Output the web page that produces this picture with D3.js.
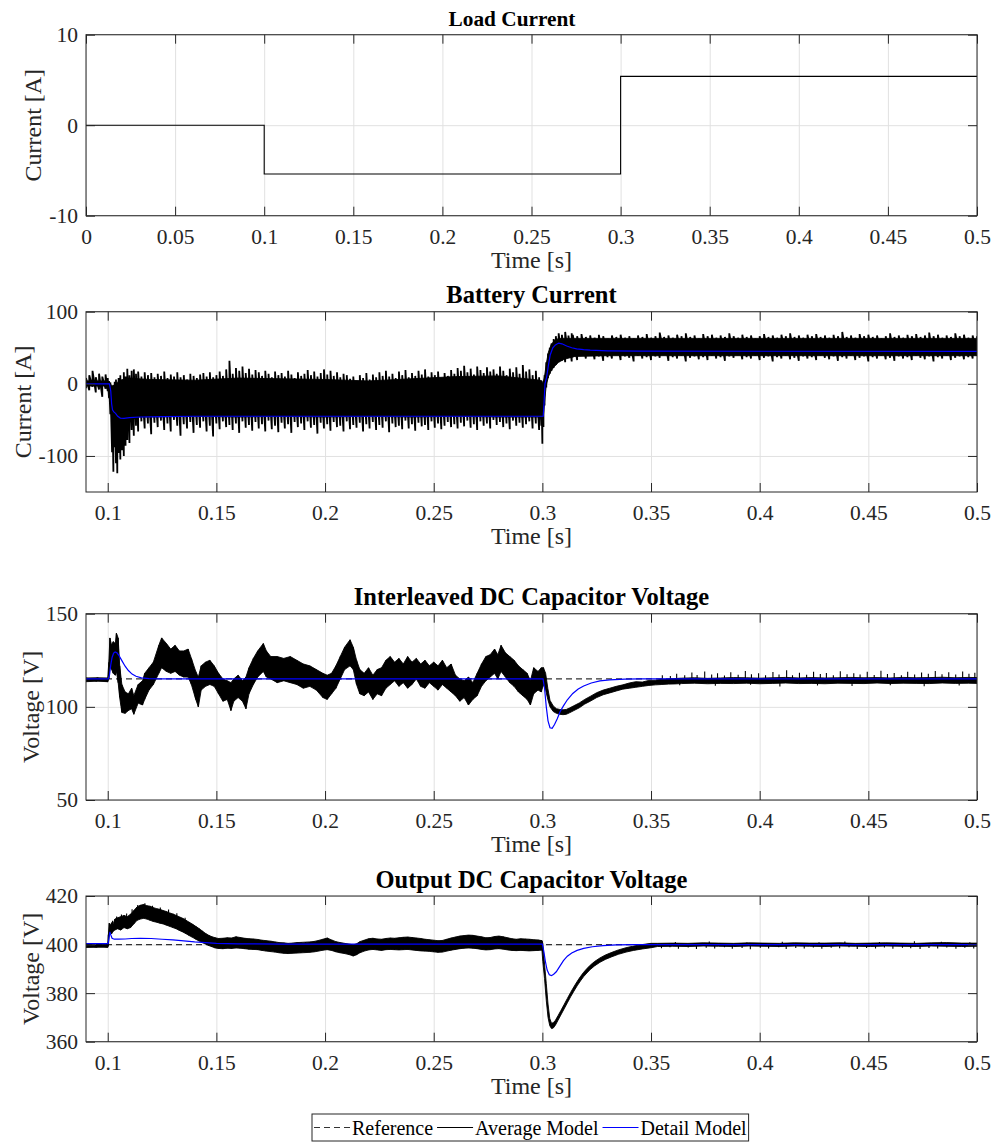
<!DOCTYPE html>
<html>
<head>
<meta charset="utf-8">
<script src="https://cdn.jsdelivr.net/npm/d3@7"></script>
<style>
  html, body { margin: 0; padding: 0; background: #fff; }
  svg { display: block; }
</style>
</head>
<body>
<svg id="fig" width="997" height="1144"></svg>
<script>
// ---------------- data ----------------
// Load current step profile: [time s, current A]
const loadSteps = [[0, 0], [0.1, -5.4], [0.3, 5.4], [0.5, 5.4]];

// Battery current, average model: solid ripple body [time s, low A, high A]
const battCore = [
  [0.0900,-3,4],[0.1000,-3,4],[0.1008,-12,2],[0.1016,-40,-2],[0.1024,-80,-3],[0.1034,-75,0],[0.1044,-85,2],
  [0.1056,-72,5],[0.1070,-66,6],[0.1090,-58,8],[0.1110,-50,8],[0.1140,-46,7],[0.1200,-46,6],[0.1400,-45,5],
  [0.1600,-46,8],[0.1800,-45,7],[0.2000,-46,6],[0.2200,-45,4],[0.2400,-46,7],[0.2600,-45,10],[0.2800,-46,11],
  [0.2990,-46,5],[0.3002,-55,0],[0.3010,-25,10],[0.3018,-2,28],[0.3028,10,44],[0.3040,18,54],[0.3055,24,60],
  [0.3075,30,63],[0.3100,34,63],[0.3150,38,63],[0.3300,39,63],[0.4000,39,63],[0.5000,39,63]
];

// Battery current, average model: switching ripple extremes [time s, low A, high A]
const battAvg = [
  [0.0900,-6,8],[0.0915,-9,12],[0.0930,-4,18],[0.0945,-12,9],[0.0960,-8,14],[0.0975,-18,10],[0.0990,-7,13],[0.1000,-10,8],
  [0.1006,-20,4],[0.1012,-42,2],[0.1020,-95,-5],[0.1026,-122,-2],[0.1032,-88,3],[0.1038,-110,6],[0.1044,-124,0],[0.1050,-96,8],
  [0.1058,-105,12],[0.1066,-92,5],[0.1074,-100,16],[0.1082,-86,10],[0.1090,-78,21],[0.1100,-82,12],[0.1110,-64,18],[0.1120,-72,20],
  [0.1130,-58,14],[0.1140,-66,17],[0.1155,-52,10],[0.1170,-62,16],[0.1185,-55,12],[0.1200,-70,15],[0.1215,-54,9],[0.1230,-60,14],
  [0.1245,-51,11],[0.1260,-64,17],[0.1275,-55,8],[0.1290,-66,13],[0.1305,-50,10],[0.1320,-58,16],[0.1335,-72,9],[0.1350,-56,12],
  [0.1365,-62,6],[0.1380,-53,14],[0.1395,-68,11],[0.1410,-57,8],[0.1425,-61,13],[0.1440,-52,15],[0.1455,-66,10],[0.1470,-58,16],
  [0.1485,-73,9],[0.1500,-55,12],[0.1515,-63,17],[0.1530,-52,11],[0.1545,-60,20],[0.1560,-57,32],[0.1575,-64,14],[0.1590,-55,22],
  [0.1605,-68,18],[0.1620,-52,24],[0.1635,-61,15],[0.1650,-57,21],[0.1665,-65,13],[0.1680,-53,19],[0.1695,-62,16],[0.1710,-56,11],
  [0.1725,-66,18],[0.1740,-51,14],[0.1755,-63,9],[0.1770,-58,17],[0.1785,-67,12],[0.1800,-54,15],[0.1815,-62,10],[0.1830,-56,18],
  [0.1845,-68,13],[0.1860,-53,8],[0.1875,-60,16],[0.1890,-55,11],[0.1905,-64,14],[0.1920,-52,19],[0.1935,-61,12],[0.1950,-57,17],
  [0.1965,-69,10],[0.1980,-54,15],[0.1995,-62,20],[0.2010,-56,13],[0.2025,-65,18],[0.2040,-53,11],[0.2055,-60,16],[0.2070,-58,9],
  [0.2085,-66,14],[0.2100,-52,12],[0.2115,-63,7],[0.2130,-57,10],[0.2145,-61,4],[0.2160,-54,12],[0.2175,-66,8],[0.2190,-56,15],
  [0.2205,-62,6],[0.2220,-53,13],[0.2235,-64,9],[0.2250,-57,16],[0.2265,-61,11],[0.2280,-52,18],[0.2295,-67,10],[0.2310,-55,14],
  [0.2325,-60,8],[0.2340,-58,17],[0.2355,-63,12],[0.2370,-51,19],[0.2385,-62,9],[0.2400,-56,15],[0.2415,-65,11],[0.2430,-54,18],
  [0.2445,-59,13],[0.2460,-57,20],[0.2475,-64,10],[0.2490,-52,16],[0.2505,-61,12],[0.2520,-55,17],[0.2535,-63,8],[0.2550,-58,15],
  [0.2565,-53,11],[0.2580,-60,19],[0.2595,-56,14],[0.2610,-62,22],[0.2625,-54,18],[0.2640,-59,25],[0.2655,-51,16],[0.2670,-61,21],
  [0.2685,-56,13],[0.2700,-64,24],[0.2715,-52,19],[0.2730,-58,15],[0.2745,-55,23],[0.2760,-62,17],[0.2775,-50,20],[0.2790,-57,14],
  [0.2805,-53,24],[0.2820,-60,18],[0.2835,-55,12],[0.2850,-63,21],[0.2865,-51,16],[0.2880,-58,23],[0.2895,-54,14],[0.2910,-61,26],
  [0.2925,-56,17],[0.2940,-52,20],[0.2955,-62,12],[0.2970,-55,18],[0.2985,-64,9],[0.2995,-58,5],[0.3000,-83,2],[0.3005,-60,4],
  [0.3010,-30,12],[0.3018,-5,30],[0.3026,8,42],[0.3034,14,50],[0.3042,18,56],[0.3052,22,62],[0.3062,26,66],[0.3075,30,70],
  [0.3090,32,68],[0.3105,30,72],[0.3120,36,67],[0.3135,31,70],
  [0.314,37,68],[0.316,33,66],[0.318,39,69],[0.320,35,65],[0.322,40,67],[0.324,34,64],[0.326,38,68],[0.328,32,66],
  [0.330,37,63],[0.332,35,67],[0.334,40,65],[0.336,33,68],[0.338,38,64],[0.340,36,66],[0.342,31,63],[0.344,39,67],
  [0.346,35,65],[0.348,37,69],[0.350,33,64],[0.352,38,66],[0.354,36,71],[0.356,40,65],[0.358,32,67],[0.360,37,64],
  [0.362,35,68],[0.364,39,66],[0.366,31,70],[0.368,36,65],[0.370,38,67],[0.372,34,63],[0.374,37,69],[0.376,33,66],
  [0.378,39,68],[0.380,35,64],[0.382,37,67],[0.384,32,65],[0.386,38,70],[0.388,36,66],[0.390,40,64],[0.392,34,68],
  [0.394,37,65],[0.396,35,67],[0.398,39,63],[0.400,33,66],[0.402,36,69],[0.404,38,65],[0.406,31,67],[0.408,37,64],
  [0.410,35,68],[0.412,39,66],[0.414,34,70],[0.416,36,65],[0.418,32,67],[0.420,38,64],[0.422,35,68],[0.424,37,66],
  [0.426,33,69],[0.428,39,65],[0.430,36,67],[0.432,34,64],[0.434,38,68],[0.436,32,66],[0.438,37,72],[0.440,35,65],
  [0.442,39,67],[0.444,33,64],[0.446,36,69],[0.448,38,66],[0.450,31,68],[0.452,37,65],[0.454,35,67],[0.456,39,63],
  [0.458,34,66],[0.460,36,70],[0.462,32,65],[0.464,38,67],[0.466,35,64],[0.468,37,68],[0.470,33,66],[0.472,39,69],
  [0.474,36,65],[0.476,34,67],[0.478,38,71],[0.480,31,66],[0.482,37,68],[0.484,35,64],[0.486,39,67],[0.488,33,65],
  [0.490,36,70],[0.492,38,66],[0.494,34,68],[0.496,37,64],[0.498,35,67],[0.500,39,66]
];

// Battery current, detail model: [time s, current A]
const battDet = [
  [0.09,0],[0.1008,0],[0.1014,-10],[0.1018,-28],[0.1022,-36],[0.1028,-39],[0.1036,-41],[0.1046,-45],[0.1058,-47.5],
  [0.1075,-48],[0.110,-47],[0.115,-46],[0.125,-45.5],[0.14,-45],[0.3004,-45],[0.3008,-25],[0.3012,0],[0.3020,10],
  [0.3028,26],[0.3036,40],[0.3048,50],[0.3060,54],[0.3075,56.5],[0.3090,55.5],[0.3112,52.5],[0.3135,50],[0.3158,48.5],
  [0.3190,47.3],[0.3220,46.6],[0.3300,45.8],[0.3450,45.2],[0.5,45]
];

// Interleaved DC capacitor voltage, average model envelope up to the load step [time s, low V, high V]
const icvRipple = [
  [0.0900,113.5,115.5],[0.0950,113.8,115.6],[0.1000,113.5,115.5],[0.1005,115,124],[0.1010,122,137],[0.1018,120,133],
  [0.1025,118,135],[0.1035,117,134],[0.1040,119,139.5],[0.1048,113,137],[0.1055,105,122],[0.1065,97,112],[0.1080,96.5,108],
  [0.1095,98,107],[0.1110,99,110],[0.1120,96,106],[0.1140,102,112],[0.1160,101,114],[0.1170,104,118],[0.1190,109,121],
  [0.1210,112,124],[0.1235,118,133],[0.1248,121,137],[0.1270,119,134],[0.1290,118,131],[0.1310,119,133],[0.1330,117,130],
  [0.1350,116,130],[0.1370,116,131],[0.1385,112,126],[0.1405,104,119],[0.1417,100,116],[0.1430,109,122],[0.1450,111,124],
  [0.1470,112,125],[0.1490,111,122],[0.1510,107,118],[0.1530,103,115],[0.1550,104,114],[0.1567,98,113],[0.1580,103,115],
  [0.1600,105,117],[0.1620,103,114],[0.1636,99,116],[0.1650,107,121],[0.1670,112,126],[0.1690,116,130],[0.1716,119,134],
  [0.1730,116,130],[0.1750,115,127],[0.1780,113,127],[0.1810,114,126],[0.1840,113,127],[0.1870,112,125],[0.1900,110,123],
  [0.1930,111,122],[0.1960,109,120],[0.1990,105,118],[0.2010,104,117],[0.2030,107,118],[0.2050,110,122],[0.2070,115,127],
  [0.2090,120,132],[0.2115,122,136],[0.2130,120,132],[0.2145,112,125],[0.2160,107,120],[0.2180,106,118],[0.2200,108,121],
  [0.2220,104,117],[0.2240,107,120],[0.2260,106,121],[0.2280,110,125],[0.2300,112,127],[0.2320,114,124],[0.2340,111,126],
  [0.2360,113,123],[0.2380,110,127],[0.2400,112,124],[0.2420,115,126],[0.2440,111,123],[0.2460,110,125],[0.2480,113,122],
  [0.2500,111,124],[0.2520,109,122],[0.2540,112,125],[0.2560,110,121],[0.2580,108,123],[0.2600,106,117],[0.2620,103,115],
  [0.2640,105,114],[0.2660,101,116],[0.2680,104,113],[0.2700,106,118],[0.2720,111,123],[0.2740,114,127],[0.2760,116,128],
  [0.2780,118,131],[0.2795,115,128],[0.2810,119,133],[0.2830,116,129],[0.2850,113,127],[0.2870,111,125],[0.2890,108,122],
  [0.2910,106,120],[0.2930,104,118],[0.2945,101,114],[0.2960,107,121],[0.2980,109,119],[0.2995,108,121],[0.3005,112,121]
];

// Interleaved DC capacitor voltage, average model after the load step [time s, low V, high V]
const icvBody = [
  [0.2995,110,119],[0.3005,112,121],[0.3015,109,118],[0.3025,104,110],[0.3035,100,103.5],[0.3050,97.5,100.5],[0.3065,96.5,99],
  [0.3080,96,98.6],[0.3095,95.8,98.4],[0.3110,96,98.6],[0.3125,96.8,99.4],[0.3145,98,100.6],[0.3170,99.5,102.1],[0.3195,101.5,104],
  [0.3220,103,105.6],[0.3250,105,107.6],[0.3280,106.5,109],[0.3310,107.5,110],[0.3340,108.5,111],[0.3370,109.5,111.8],
  [0.3400,110,112.8],[0.3430,110.5,113.5],[0.3460,111,113.3],[0.3490,111.5,114.2],[0.3520,111.8,114.3],[0.3550,112,114.8],
  [0.3580,112.2,114.9],[0.3610,112.3,115.2],[0.364,112.5,115.4],[0.370,112.7,115.6],[0.376,112.4,115.3],[0.382,112.6,115.5],
  [0.388,112.5,115.7],[0.394,112.7,115.6],[0.400,112.4,115.4],[0.406,112.6,115.6],[0.412,112.8,115.8],[0.418,112.5,115.5],
  [0.424,112.6,115.7],[0.430,112.4,115.5],[0.436,112.7,115.6],[0.442,112.6,115.8],[0.448,112.5,115.6],[0.454,112.8,115.7],
  [0.460,112.5,115.5],[0.466,112.7,115.8],[0.472,112.6,115.6],[0.478,112.5,115.7],[0.484,112.8,115.9],[0.490,112.6,115.6],
  [0.496,112.7,115.8],[0.500,112.6,115.7]
];

// Interleaved DC capacitor voltage, average model spikes [time s, from V, to V]
const icvSpikes = [
  [0.3552,115,117.0],[0.3589,115,116.6],[0.3618,115,117.8],[0.3632,113,111.6],[0.3655,115,116.9],[0.3688,115,118.4],
  [0.3712,115,117.1],[0.3747,115,119.0],[0.3779,115,117.3],[0.3796,113,111.3],[0.3806,115,118.1],[0.3838,115,116.8],
  [0.3867,115,118.6],[0.3901,115,117.2],[0.3934,115,119.3],[0.3958,113,111.8],[0.3962,115,117.5],[0.3995,115,118.0],
  [0.4027,115,116.9],[0.4061,115,118.7],[0.4089,115,117.4],[0.4093,113,110.9],[0.4124,115,119.6],[0.4151,115,117.0],
  [0.4183,115,118.3],[0.4216,115,117.2],[0.4248,115,118.9],[0.4266,113,111.5],[0.4279,115,117.6],[0.4307,115,118.2],
  [0.4339,115,116.9],[0.4371,115,119.1],[0.4402,115,117.5],[0.4425,113,111.2],[0.4433,115,118.0],[0.4462,115,117.3],
  [0.4495,115,118.8],[0.4527,115,117.1],[0.4558,115,119.4],[0.4588,115,117.6],[0.4601,113,111.6],[0.4619,115,118.2],
  [0.4652,115,117.0],[0.4681,115,118.9],[0.4713,115,117.4],[0.4745,115,118.4],[0.4757,113,111.0],[0.4776,115,117.8],
  [0.4808,115,119.2],[0.4839,115,117.5],[0.4870,115,118.6],[0.4902,115,117.3],[0.4918,113,111.4],[0.4934,115,119.0],
  [0.4963,115,117.7],[0.4990,115,118.3]
];

// Interleaved DC capacitor voltage, detail model: [time s, voltage V]
const icvDet = [
  [0.09,115],[0.1003,115],[0.1008,117],[0.1014,122.5],[0.1020,126.5],[0.1027,128.8],[0.1034,129.5],[0.1042,129],
  [0.1052,127.5],[0.1065,124.8],[0.1080,121.8],[0.1095,119.5],[0.1112,117.6],[0.1130,116.4],[0.1155,115.6],[0.1190,115.2],
  [0.1250,115],[0.3003,115],[0.3010,110],[0.3018,100],[0.3026,92.5],[0.3035,88.8],[0.3045,88.5],[0.3056,90.5],[0.3068,93.5],
  [0.3082,97.5],[0.3097,100.5],[0.3115,103.8],[0.3140,107.2],[0.3165,109.6],[0.3190,111.2],[0.3225,112.8],[0.3265,113.9],
  [0.3310,114.5],[0.3380,114.9],[0.3450,115],[0.5,115]
];

// Output DC capacitor voltage, average model envelope up to the load step [time s, low V, high V]
const ocvRipple = [
  [0.0900,398.8,400.0],[0.0950,398.9,399.9],[0.1000,398.9,400.1],[0.1003,399.5,404],[0.1007,404,408.8],[0.1012,405,408],
  [0.1018,404.5,409],[0.1025,405.5,408.5],[0.1033,406,410.5],[0.1045,406.5,411],[0.1060,406,411.5],[0.1075,407,412],
  [0.1090,406.5,411.5],[0.1105,407,412.5],[0.1120,408.5,414],[0.1135,410,415.5],[0.1150,410.5,416.2],[0.1165,410.8,416.5],
  [0.1180,410.5,416],[0.1195,410,415.8],[0.1210,409.5,415.2],[0.1225,409.2,414.8],[0.1240,408.8,414.5],[0.1255,408.5,414],
  [0.1270,408,413.6],[0.1285,407.5,413],[0.1300,407,412.6],[0.1315,406.5,412],[0.1330,405.8,411.4],[0.1345,405.2,410.8],
  [0.1360,404.5,410],[0.1375,403.7,409.2],[0.1390,403,408.4],[0.1405,402.2,407.5],[0.1420,401.5,406.6],[0.1435,400.8,405.6],
  [0.1450,400.2,404.6],[0.1465,399.6,403.8],[0.1480,399.1,403.2],[0.1495,398.6,402.8],[0.1510,398.4,402.5],[0.1530,398.3,402.6],
  [0.1550,398.5,402.8],[0.1570,398.4,402.7],[0.1590,398.6,403.2],[0.1610,398.5,402.9],[0.1630,398.3,402.6],[0.1650,398.1,402.4],
  [0.1670,398.0,402.3],[0.1690,397.9,402.1],[0.1710,397.6,401.8],[0.1730,397.3,401.6],[0.1750,397.1,401.4],[0.1770,396.9,401.1],
  [0.1790,396.6,400.8],[0.1810,396.4,400.7],[0.1830,396.3,400.5],[0.1850,396.4,400.6],[0.1870,396.5,400.8],[0.1890,396.6,400.9],
  [0.1910,396.7,401.0],[0.1930,396.8,401.1],[0.1950,397.0,401.3],[0.1970,397.3,401.7],[0.1990,397.7,402.2],[0.2010,397.9,402.7],
  [0.2030,397.6,401.9],[0.2050,397.0,401.2],[0.2070,396.6,400.8],[0.2090,396.3,400.5],[0.2110,395.9,400.2],[0.2130,395.3,399.9],
  [0.2145,395.8,400.3],[0.2160,396.6,401.2],[0.2180,397.3,401.8],[0.2200,397.8,402.4],[0.2220,398.0,402.6],[0.2240,397.8,402.3],
  [0.2260,397.6,402.2],[0.2280,397.9,402.5],[0.2300,398.0,402.7],[0.2320,397.9,402.6],[0.2340,397.8,402.8],[0.2360,397.9,403.0],
  [0.2380,398.0,403.1],[0.2400,397.8,402.9],[0.2420,397.6,402.7],[0.2440,397.4,402.5],[0.2460,397.3,402.2],[0.2480,397.2,402.0],
  [0.2500,397.0,401.8],[0.2520,396.8,401.6],[0.2540,396.9,401.7],[0.2560,397.3,402.2],[0.2580,397.7,402.7],[0.2600,398.0,403.1],
  [0.2620,398.3,403.5],[0.2640,398.5,403.7],[0.2660,398.6,403.9],[0.2680,398.5,403.8],[0.2700,398.3,403.5],[0.2720,398.0,403.2],
  [0.2740,397.8,402.8],[0.2760,397.9,402.9],[0.2780,398.2,403.3],[0.2800,398.3,403.5],[0.2820,398.1,403.2],[0.2840,397.8,402.8],
  [0.2860,397.6,402.4],[0.2880,397.5,402.2],[0.2900,397.6,402.4],[0.2920,397.5,402.3],[0.2940,397.4,402.2],[0.2960,397.5,402.0],
  [0.2980,397.6,401.9],[0.2998,397.8,401.6]
];

// Output DC capacitor voltage, average model after the load step [time s, low V, high V]
const ocvBody = [
  [0.2980,397.9,401.6],[0.2998,397.8,401.6],[0.3002,393,400.5],[0.3010,386,392],[0.3018,377,384],[0.3026,370,375.5],
  [0.3034,366.6,369.6],[0.3042,365.4,367.6],[0.3050,365.6,367.8],[0.3060,366.8,368.8],[0.3072,368.8,370.7],[0.3085,371.0,372.8],
  [0.3100,373.5,375.3],[0.3115,376.0,377.8],[0.3130,378.5,380.3],[0.3145,380.8,382.6],[0.3160,383.0,384.8],[0.3175,385.0,386.8],
  [0.3190,386.8,388.6],[0.3205,388.3,390.1],[0.3220,389.7,391.5],[0.3240,391.2,393.0],[0.3265,392.7,394.5],[0.3290,393.9,395.7],
  [0.3320,395.0,396.8],[0.3350,396.0,397.8],[0.3385,396.9,398.7],[0.3420,397.6,399.4],[0.3460,398.2,400.0],[0.3500,398.7,400.5],
  [0.353,399.2,400.5],[0.360,399.3,400.6],[0.367,399.2,400.5],[0.374,399.4,400.7],[0.381,399.3,400.6],[0.388,399.2,400.5],
  [0.395,399.4,400.7],[0.402,399.3,400.6],[0.409,399.2,400.5],[0.416,399.4,400.7],[0.423,399.3,400.6],[0.430,399.2,400.6],
  [0.437,399.4,400.7],[0.444,399.3,400.5],[0.451,399.2,400.6],[0.458,399.4,400.7],[0.465,399.3,400.6],[0.472,399.2,400.5],
  [0.479,399.4,400.7],[0.486,399.3,400.8],[0.493,399.2,400.6],[0.500,399.3,400.6]
];

// Output DC capacitor voltage, average model spikes [time s, from V, to V]
const ocvSpikes = [
  [0.1022,407,409.8],[0.1041,408,411.6],[0.1063,409,412.4],[0.1087,409,412.8],[0.1112,411,414.5],[0.1138,413,416.3],
  [0.1171,414,417.0],[0.1206,413,416.0],[0.1242,412,415.3],[0.1280,411,414.4],[0.1318,410,412.9],[0.1356,408,411.0],
  [0.3548,399.8,398.5],[0.3587,399.8,398.9],[0.3612,400,401.1],[0.3626,399.8,398.3],[0.3671,399.8,398.8],[0.3709,399.8,398.2],
  [0.3754,399.8,398.7],[0.3768,400,401.3],[0.3793,399.8,398.4],[0.3838,399.8,398.9],[0.3874,399.8,398.3],[0.3919,399.8,398.6],
  [0.3941,400,400.9],[0.3957,399.8,398.1],[0.4003,399.8,398.7],[0.4041,399.8,398.4],[0.4088,399.8,398.9],[0.4104,400,401.2],
  [0.4122,399.8,398.2],[0.4166,399.8,398.6],[0.4205,399.8,398.4],[0.4247,399.8,398.8],[0.4273,400,401.0],[0.4286,399.8,398.3],
  [0.4329,399.8,398.7],[0.4368,399.8,398.5],[0.4392,400,401.3],[0.4411,399.8,398.9],[0.4449,399.8,398.2],[0.4492,399.8,398.6],
  [0.4533,399.8,398.4],[0.4551,400,401.1],[0.4574,399.8,398.8],[0.4613,399.8,398.3],[0.4657,399.8,398.7],[0.4695,399.8,398.5],
  [0.4712,400,401.4],[0.4738,399.8,398.2],[0.4779,399.8,398.6],[0.4819,399.8,398.4],[0.4836,400,401.2],[0.4861,399.8,398.8],
  [0.4903,399.8,398.3],[0.4944,399.8,398.7],[0.4967,400,401.0],[0.4985,399.8,398.4]
];

// Output DC capacitor voltage, detail model: [time s, voltage V]
const ocvDet = [
  [0.09,400.4],[0.1002,400.4],[0.1006,403],[0.1010,405.2],[0.1014,404],[0.1020,402.6],[0.1030,402.2],[0.1050,402.2],
  [0.1080,402.3],[0.1110,402.5],[0.1150,402.6],[0.1200,402.5],[0.1250,402.2],[0.1300,401.9],[0.1350,401.5],[0.1400,401.1],
  [0.1450,400.8],[0.1500,400.5],[0.1600,400.3],[0.1800,400.2],[0.3000,400.2],[0.3006,397.5],[0.3014,393],[0.3022,389.5],
  [0.3032,387.6],[0.3042,387.2],[0.3052,387.8],[0.3064,388.8],[0.3080,391],[0.3097,393.4],[0.3115,395.2],[0.3135,396.5],
  [0.3160,397.6],[0.3190,398.4],[0.3230,399.1],[0.3280,399.6],[0.3340,399.9],[0.3420,400.0],[0.5,400.0]
];

// Voltage references
const icvRef = 115;
const ocvRef = 400;

// Axis ticks and labels
const xTicksLoad = [0, 0.05, 0.1, 0.15, 0.2, 0.25, 0.3, 0.35, 0.4, 0.45, 0.5];
const xLabelsLoad = ["0", "0.05", "0.1", "0.15", "0.2", "0.25", "0.3", "0.35", "0.4", "0.45", "0.5"];
const xTicksZoom = [0.1, 0.15, 0.2, 0.25, 0.3, 0.35, 0.4, 0.45, 0.5];
const xLabelsZoom = ["0.1", "0.15", "0.2", "0.25", "0.3", "0.35", "0.4", "0.45", "0.5"];
const yTicksLoad = [-10, 0, 10];
const yLabelsLoad = ["-10", "0", "10"];
const yTicksBatt = [-100, 0, 100];
const yLabelsBatt = ["-100", "0", "100"];
const yTicksIcv = [50, 100, 150];
const yLabelsIcv = ["50", "100", "150"];
const yTicksOcv = [360, 380, 400, 420];
const yLabelsOcv = ["360", "380", "400", "420"];

const titles = ["Load Current", "Battery Current", "Interleaved DC Capacitor Voltage", "Output DC Capacitor Voltage"];
const yLabels = ["Current [A]", "Current [A]", "Voltage [V]", "Voltage [V]"];
const xLabel = "Time [s]";
const legendLabels = ["Reference", "Average Model", "Detail Model"];

// ---------------- fonts ----------------
// Use the first installed Times-like face.
function pickFont(list) {
  const ctx = document.createElement("canvas").getContext("2d");
  const sample = "mmmmmmmmmmlliWQ0.05 Current";
  const widthOf = f => { ctx.font = "40px " + f; return ctx.measureText(sample).width; };
  const mono = widthOf("monospace"), sans = widthOf("sans-serif");
  for (const name of list) {
    if (widthOf(`"${name}", monospace`) !== mono || widthOf(`"${name}", sans-serif`) !== sans) return `"${name}", serif`;
  }
  return "serif";
}
const FONT = pickFont(["Liberation Serif", "Times New Roman", "Tinos", "Nimbus Roman", "Noto Serif", "DejaVu Serif"]);

// ---------------- layout ----------------
const svg = d3.select("#fig").attr("font-family", FONT);
const L = 86, R = 977;
const AX = "#262626", GRID = "#e1e1e1", BLUE = "#0000ff";
const TICK_FS = 21.5, LABEL_FS = 24, LEGEND_FS = 20;

const panels = [
  { top: 34.7, bottom: 215.7, xd: [0, 0.5], yd: [-10, 10], xt: xTicksLoad, xl: xLabelsLoad, yt: yTicksLoad, yl: yLabelsLoad,
    title: titles[0], titleX: 512, titleFs: 21.3, ylab: yLabels[0], ylabX: 33 },
  { top: 311.7, bottom: 492, xd: [0.09, 0.5], yd: [-150, 100], xt: xTicksZoom, xl: xLabelsZoom, yt: yTicksBatt, yl: yLabelsBatt,
    title: titles[1], titleX: 531.5, titleFs: 24.5, ylab: yLabels[1], ylabX: 23 },
  { top: 613.7, bottom: 800, xd: [0.09, 0.5], yd: [50, 150], xt: xTicksZoom, xl: xLabelsZoom, yt: yTicksIcv, yl: yLabelsIcv,
    title: titles[2], titleX: 531.5, titleFs: 24.5, ylab: yLabels[2], ylabX: 31 },
  { top: 896, bottom: 1041.7, xd: [0.09, 0.5], yd: [360, 420], xt: xTicksZoom, xl: xLabelsZoom, yt: yTicksOcv, yl: yLabelsOcv,
    title: titles[3], titleX: 531.5, titleFs: 24.5, ylab: yLabels[3], ylabX: 31 }
];

panels.forEach((p, i) => {
  p.x = d3.scaleLinear().domain(p.xd).range([L, R]);
  p.y = d3.scaleLinear().domain(p.yd).range([p.bottom, p.top]);
  const g = svg.append("g");
  const h = p.bottom - p.top;

  // grid
  g.append("g").attr("transform", `translate(0,${p.bottom})`)
    .call(d3.axisBottom(p.x).tickValues(p.xt).tickSize(-h).tickFormat(""))
    .call(s => { s.select(".domain").remove(); s.selectAll("line").attr("stroke", GRID).attr("stroke-width", 1); });
  g.append("g").attr("transform", `translate(${L},0)`)
    .call(d3.axisLeft(p.y).tickValues(p.yt).tickSize(-(R - L)).tickFormat(""))
    .call(s => { s.select(".domain").remove(); s.selectAll("line").attr("stroke", GRID).attr("stroke-width", 1); });

  // clip for data
  const cid = "clip" + i;
  svg.append("clipPath").attr("id", cid).append("rect")
    .attr("x", L).attr("y", p.top).attr("width", R - L).attr("height", h);
  p.plot = g.append("g").attr("clip-path", `url(#${cid})`);
  p.axesG = svg.append("g");
});

function drawAxes(p) {
  const g = p.axesG;
  const fmtX = (d, i) => p.xl[i], fmtY = (d, i) => p.yl[i];
  const styleAx = s => {
    s.attr("font-family", FONT).attr("font-size", TICK_FS);
    s.select(".domain").remove();
    s.selectAll("line").attr("stroke", AX).attr("stroke-width", 1);
    s.selectAll("text").attr("fill", AX);
  };
  g.append("g").attr("transform", `translate(0,${p.bottom})`)
    .call(d3.axisBottom(p.x).tickValues(p.xt).tickFormat(fmtX).tickSizeInner(-9).tickSizeOuter(0).tickPadding(13))
    .call(styleAx);
  g.append("g").attr("transform", `translate(0,${p.top})`)
    .call(d3.axisTop(p.x).tickValues(p.xt).tickFormat("").tickSizeInner(-9).tickSizeOuter(0))
    .call(styleAx);
  g.append("g").attr("transform", `translate(${L},0)`)
    .call(d3.axisLeft(p.y).tickValues(p.yt).tickFormat(fmtY).tickSizeInner(-9).tickSizeOuter(0).tickPadding(8))
    .call(styleAx);
  g.append("g").attr("transform", `translate(${R},0)`)
    .call(d3.axisRight(p.y).tickValues(p.yt).tickFormat("").tickSizeInner(-9).tickSizeOuter(0))
    .call(styleAx);
  g.append("rect").attr("x", L).attr("y", p.top).attr("width", R - L).attr("height", p.bottom - p.top)
    .attr("fill", "none").attr("stroke", AX).attr("stroke-width", 1);

  // title
  g.append("text").attr("x", p.titleX).attr("y", p.top - 8.5).attr("text-anchor", "middle")
    .attr("font-size", p.titleFs).attr("font-weight", "bold").attr("fill", "#000").text(p.title);
  // x label
  g.append("text").attr("x", (L + R) / 2).attr("y", p.bottom + 52).attr("text-anchor", "middle")
    .attr("font-size", LABEL_FS).attr("fill", AX).text(xLabel);
  // y label
  g.append("text").attr("transform", `translate(${p.ylabX},${(p.top + p.bottom) / 2}) rotate(-90)`)
    .attr("text-anchor", "middle").attr("dominant-baseline", "central")
    .attr("font-size", LABEL_FS).attr("fill", AX).text(p.ylab);
}

// ---------------- marks ----------------
// filled envelope between low and high
function band(p, data) {
  p.plot.append("path").datum(data)
    .attr("d", d3.area().x(d => p.x(d[0])).y0(d => p.y(d[1])).y1(d => p.y(d[2])))
    .attr("fill", "#000").attr("stroke", "#000").attr("stroke-width", 0.9);
}
// fast ripple drawn as the trace swinging between low and high at each sample
function ripple(p, data, width) {
  const pts = data.flatMap(d => [[d[0], d[1]], [d[0], d[2]]]);
  p.plot.append("path").datum(pts)
    .attr("d", d3.line().x(d => p.x(d[0])).y(d => p.y(d[1])))
    .attr("fill", "none").attr("stroke", "#000").attr("stroke-width", width).attr("stroke-linejoin", "bevel");
}
// isolated spikes
function spikes(p, data, width) {
  p.plot.append("path")
    .attr("d", data.map(d => `M${p.x(d[0])},${p.y(d[1])}V${p.y(d[2])}`).join(""))
    .attr("fill", "none").attr("stroke", "#000").attr("stroke-width", width);
}
function trace(p, data, color, width, curve) {
  const line = d3.line().x(d => p.x(d[0])).y(d => p.y(d[1]));
  if (curve) line.curve(curve);
  p.plot.append("path").datum(data).attr("d", line)
    .attr("fill", "none").attr("stroke", color).attr("stroke-width", width);
}
function refLine(p, value) {
  p.plot.append("path").datum(p.xd)
    .attr("d", d3.line().x(d => p.x(d)).y(() => p.y(value)))
    .attr("fill", "none").attr("stroke", "#333").attr("stroke-width", 1.2).attr("stroke-dasharray", "6,4");
}

const [pLoad, pBatt, pIcv, pOcv] = panels;

trace(pLoad, loadSteps, "#000", 1.1, d3.curveStepAfter);

band(pBatt, battCore);
ripple(pBatt, battAvg, 1.8);
trace(pBatt, battDet, BLUE, 1.2);

refLine(pIcv, icvRef);
band(pIcv, icvRipple);
ripple(pIcv, icvRipple, 1.2);
band(pIcv, icvBody);
spikes(pIcv, icvSpikes, 1.1);
trace(pIcv, icvDet, BLUE, 1.2);

refLine(pOcv, ocvRef);
band(pOcv, ocvRipple);
ripple(pOcv, ocvRipple, 1.2);
band(pOcv, ocvBody);
spikes(pOcv, ocvSpikes, 1.1);
trace(pOcv, ocvDet, BLUE, 1.2);

panels.forEach(drawAxes);

// ---------------- legend ----------------
const lg = svg.append("g").attr("font-family", FONT);
const lgTop = 1114, lgH = 27, lgX = 312, lineLen = 36, cy = lgTop + lgH / 2;
const box = lg.append("rect").attr("x", lgX).attr("y", lgTop).attr("height", lgH)
  .attr("fill", "#fff").attr("stroke", AX).attr("stroke-width", 1);
const styles = [
  { stroke: "#333", dash: "6,4" },
  { stroke: "#000", dash: null },
  { stroke: BLUE, dash: null }
];
let cx = lgX + 2;
legendLabels.forEach((lab, i) => {
  lg.append("line").attr("x1", cx).attr("x2", cx + lineLen).attr("y1", cy).attr("y2", cy)
    .attr("stroke", styles[i].stroke).attr("stroke-width", 1.2)
    .attr("stroke-dasharray", styles[i].dash);
  cx += lineLen + 2;
  const t = lg.append("text").attr("x", cx).attr("y", cy).attr("dominant-baseline", "central")
    .attr("font-size", LEGEND_FS).attr("fill", "#000").text(lab);
  cx += t.node().getComputedTextLength() + 4;
});
box.attr("width", cx - lgX - 2);
</script>
</body>
</html>
